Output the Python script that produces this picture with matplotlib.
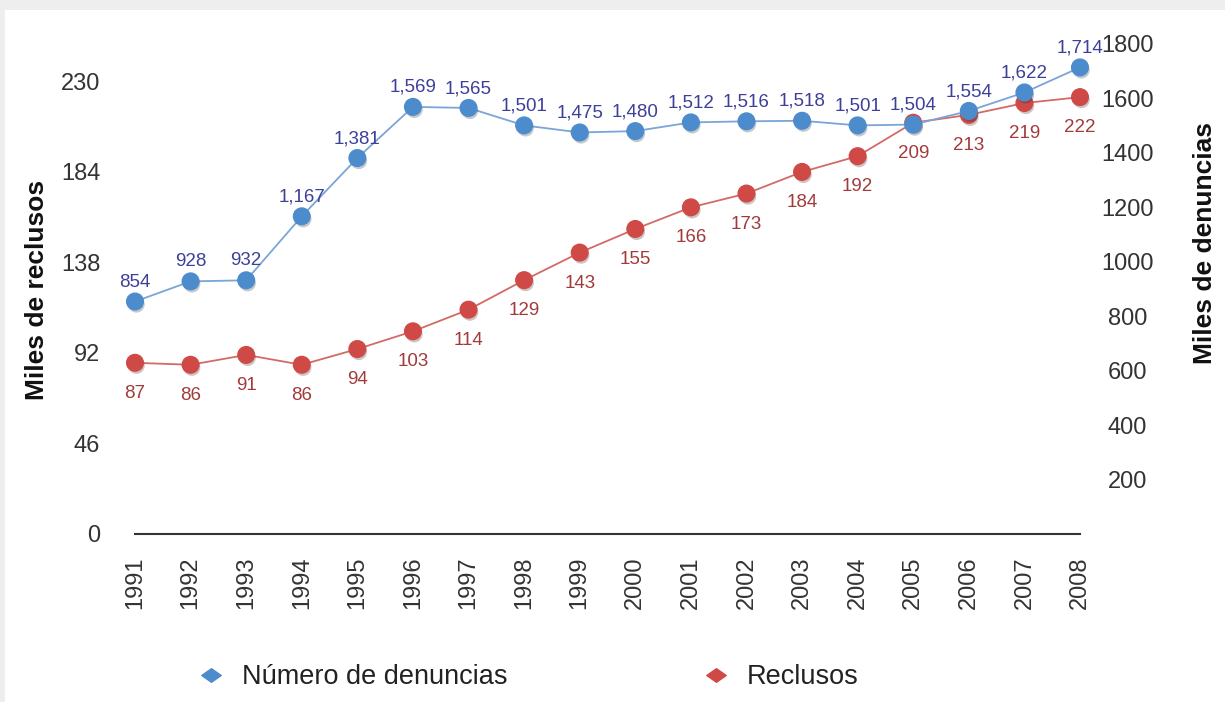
import matplotlib
matplotlib.use("Agg")
import matplotlib.pyplot as plt
import matplotlib.patheffects as pe
from matplotlib.lines import Line2D
from matplotlib.patches import Rectangle
from matplotlib.path import Path

plt.rcParams['font.family'] = ['Liberation Sans', 'DejaVu Sans']

years = list(range(1991, 2009))
denuncias = [854, 928, 932, 1167, 1381, 1569, 1565, 1501, 1475, 1480,
             1512, 1516, 1518, 1501, 1504, 1554, 1622, 1714]
reclusos = [87, 86, 91, 86, 94, 103, 114, 129, 143, 155,
            166, 173, 184, 192, 209, 213, 219, 222]
left_ticks = [0, 46, 92, 138, 184, 230]
right_ticks = [200, 400, 600, 800, 1000, 1200, 1400, 1600, 1800]

blue_dot = '#4d8ccc'
blue_line = '#7aa5d6'
blue_txt = '#3d3f99'
red_dot = '#cf4a47'
red_line = '#d36a66'
red_txt = '#a33a3a'

fig = plt.figure(figsize=(12.25, 7.02), dpi=100, facecolor='#eeeeee')
# white panel, gray margin only at top and left
fig.patches.append(Rectangle((5 / 1225, 0), 1, 692 / 702, transform=fig.transFigure,
                             facecolor='white', edgecolor='none', zorder=-10))

ax = fig.add_axes([135 / 1225, 168 / 702, 945 / 1225, 490 / 702])
ax.patch.set_alpha(0)
ax2 = ax.twinx()
ax2.patch.set_alpha(0)

shadow = [pe.SimplePatchShadow(offset=(1, -2), alpha=0.25), pe.Normal()]

# lines first, then the dots with a soft shadow
ax.plot(years, reclusos, color=red_line, lw=1.3, zorder=2)
ax.plot(years, reclusos, linestyle='none', marker='o', markersize=12,
        markerfacecolor=red_dot, markeredgecolor=red_dot, clip_on=False,
        path_effects=shadow, zorder=3)
ax2.plot(years, denuncias, color=blue_line, lw=1.3, zorder=2)
ax2.plot(years, denuncias, linestyle='none', marker='o', markersize=12,
         markerfacecolor=blue_dot, markeredgecolor=blue_dot, clip_on=False,
         path_effects=shadow, zorder=3)

for x, v in zip(years, reclusos):
    ax.annotate(str(v), (x, v), xytext=(0, -22), textcoords='offset points',
                ha='center', va='center', fontsize=13.5, color=red_txt)
for x, v in zip(years, denuncias):
    ax2.annotate(f'{v:,}', (x, v), xytext=(0, 14), textcoords='offset points',
                 ha='center', va='center', fontsize=13.5, color=blue_txt)

ax.set_xlim(1991, 2008)
ax.set_ylim(0, 249)
ax2.set_ylim(0, 1800)
ax.set_xticks(years)
ax.set_xticklabels([str(y) for y in years], rotation=90, fontsize=17, color='#333333')
ax.set_yticks(left_ticks)
ax.set_yticklabels([str(t) for t in left_ticks], fontsize=17, color='#333333')
ax2.set_yticks(right_ticks)
ax2.set_yticklabels([str(t) for t in right_ticks], fontsize=17, color='#333333')
for lab in ax2.get_yticklabels():
    lab.set_horizontalalignment('center')

ax.tick_params(axis='x', length=0, pad=16)
ax.tick_params(axis='y', length=0, pad=25)
ax2.tick_params(axis='y', length=0, pad=34)

for a in (ax, ax2):
    for s in ('top', 'left', 'right'):
        a.spines[s].set_visible(False)
ax2.spines['bottom'].set_visible(False)
ax.spines['bottom'].set_color('#333333')
ax.spines['bottom'].set_linewidth(1.5)

fig.text(37 / 1225, 1 - 290 / 702, 'Miles de reclusos', rotation=90, ha='center',
         va='center', fontsize=19, fontweight='bold', color='#111111')
fig.text(1205 / 1225, 1 - 243 / 702, 'Miles de denuncias', rotation=90, ha='center',
         va='center', fontsize=19, fontweight='bold', color='#111111')

diamond = Path([(-1, 0), (0, 0.7), (1, 0), (0, -0.7), (-1, 0)],
               [Path.MOVETO, Path.LINETO, Path.LINETO, Path.LINETO, Path.CLOSEPOLY])
handles = [Line2D([], [], linestyle='none', marker=diamond, markersize=14,
                  markerfacecolor=blue_dot, markeredgecolor=blue_dot),
           Line2D([], [], linestyle='none', marker=diamond, markersize=14,
                  markerfacecolor=red_dot, markeredgecolor=red_dot)]
fig.legend(handles, ['Número de denuncias', 'Reclusos'], loc='center left',
           bbox_to_anchor=(197 / 1225, 1 - 677 / 702), ncol=2, frameon=False,
           fontsize=19.5, handlelength=1.0, handletextpad=0.65, columnspacing=7.2,
           borderpad=0, borderaxespad=0, labelcolor='#222222')

fig.savefig('out.png', dpi=100, facecolor=fig.get_facecolor())
